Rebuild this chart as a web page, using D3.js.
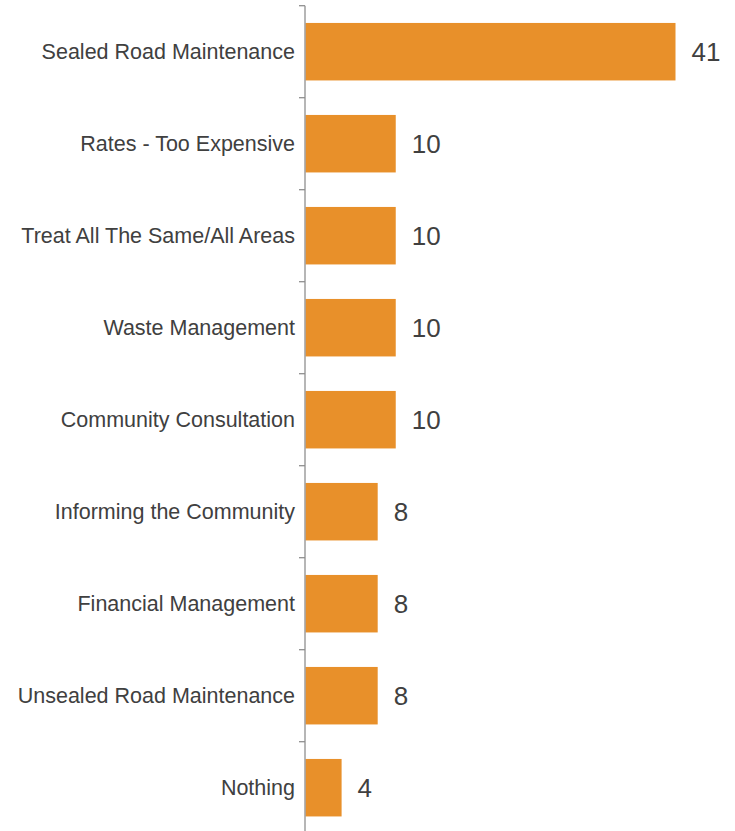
<!DOCTYPE html>
<html>
<head>
<meta charset="utf-8">
<script src="https://cdn.jsdelivr.net/npm/d3@7"></script>
<style>
  body { margin: 0; background: #ffffff; }
  svg { display: block; }
</style>
</head>
<body>
<div id="chart"></div>
<script>
var width = 735;
var height = 831;
let bar_color = "#E8902A";
let text_color = "#404040";
let axis_color = "#8f8f8f";

// data
let categories = ["Sealed Road Maintenance", "Rates - Too Expensive", "Treat All The Same/All Areas",
  "Waste Management", "Community Consultation", "Informing the Community",
  "Financial Management", "Unsealed Road Maintenance", "Nothing"];
let values = [41, 10, 10, 10, 10, 8, 8, 8, 4];

var axis_x = 305;
var top_y = 5.7;
var bottom_y = 833.7;

var svg = d3.select("#chart").append("svg")
  .attr("width", width)
  .attr("height", height);

var yscale = d3.scaleBand()
  .domain(categories)
  .range([top_y, bottom_y])
  .paddingInner(0.375)
  .paddingOuter(0.1875);

var xscale = d3.scaleLinear()
  .domain([0, 41])
  .range([axis_x + 0.5, 675.5]);

// bars
svg.append("g").attr("id", "bars")
  .selectAll("rect")
  .data(categories)
  .enter().append("rect")
  .attr("x", xscale(0))
  .attr("y", function(d) { return yscale(d); })
  .attr("width", function(d, i) { return xscale(values[i]) - xscale(0); })
  .attr("height", yscale.bandwidth())
  .style("fill", bar_color);

// axis line + ticks at band boundaries
var g_axis = svg.append("g").attr("id", "axis");
g_axis.append("line")
  .attr("x1", axis_x).attr("x2", axis_x)
  .attr("y1", top_y).attr("y2", bottom_y)
  .style("stroke", axis_color)
  .style("stroke-width", 1.3);

var step = yscale.step();
var boundaries = d3.range(categories.length + 1).map(function(i) { return top_y + i * step; });
g_axis.selectAll("line.tick")
  .data(boundaries)
  .enter().append("line")
  .attr("class", "tick")
  .attr("x1", axis_x - 6).attr("x2", axis_x)
  .attr("y1", function(d) { return d; })
  .attr("y2", function(d) { return d; })
  .style("stroke", axis_color)
  .style("stroke-width", 1.3);

// category labels
svg.append("g").attr("id", "labels")
  .selectAll("text")
  .data(categories)
  .enter().append("text")
  .attr("x", axis_x - 10)
  .attr("y", function(d) { return yscale(d) + yscale.bandwidth() / 2; })
  .attr("dy", "0.32em")
  .attr("text-anchor", "end")
  .style("font-family", "'Liberation Sans', Arial, sans-serif")
  .style("font-size", "21.5px")
  .style("fill", text_color)
  .text(function(d) { return d; });

// value labels
svg.append("g").attr("id", "values")
  .selectAll("text")
  .data(categories)
  .enter().append("text")
  .attr("x", function(d, i) { return xscale(values[i]) + 16; })
  .attr("y", function(d) { return yscale(d) + yscale.bandwidth() / 2; })
  .attr("dy", "0.36em")
  .style("font-family", "'Liberation Sans', Arial, sans-serif")
  .style("font-size", "26px")
  .style("fill", text_color)
  .text(function(d, i) { return values[i]; });
</script>
</body>
</html>
